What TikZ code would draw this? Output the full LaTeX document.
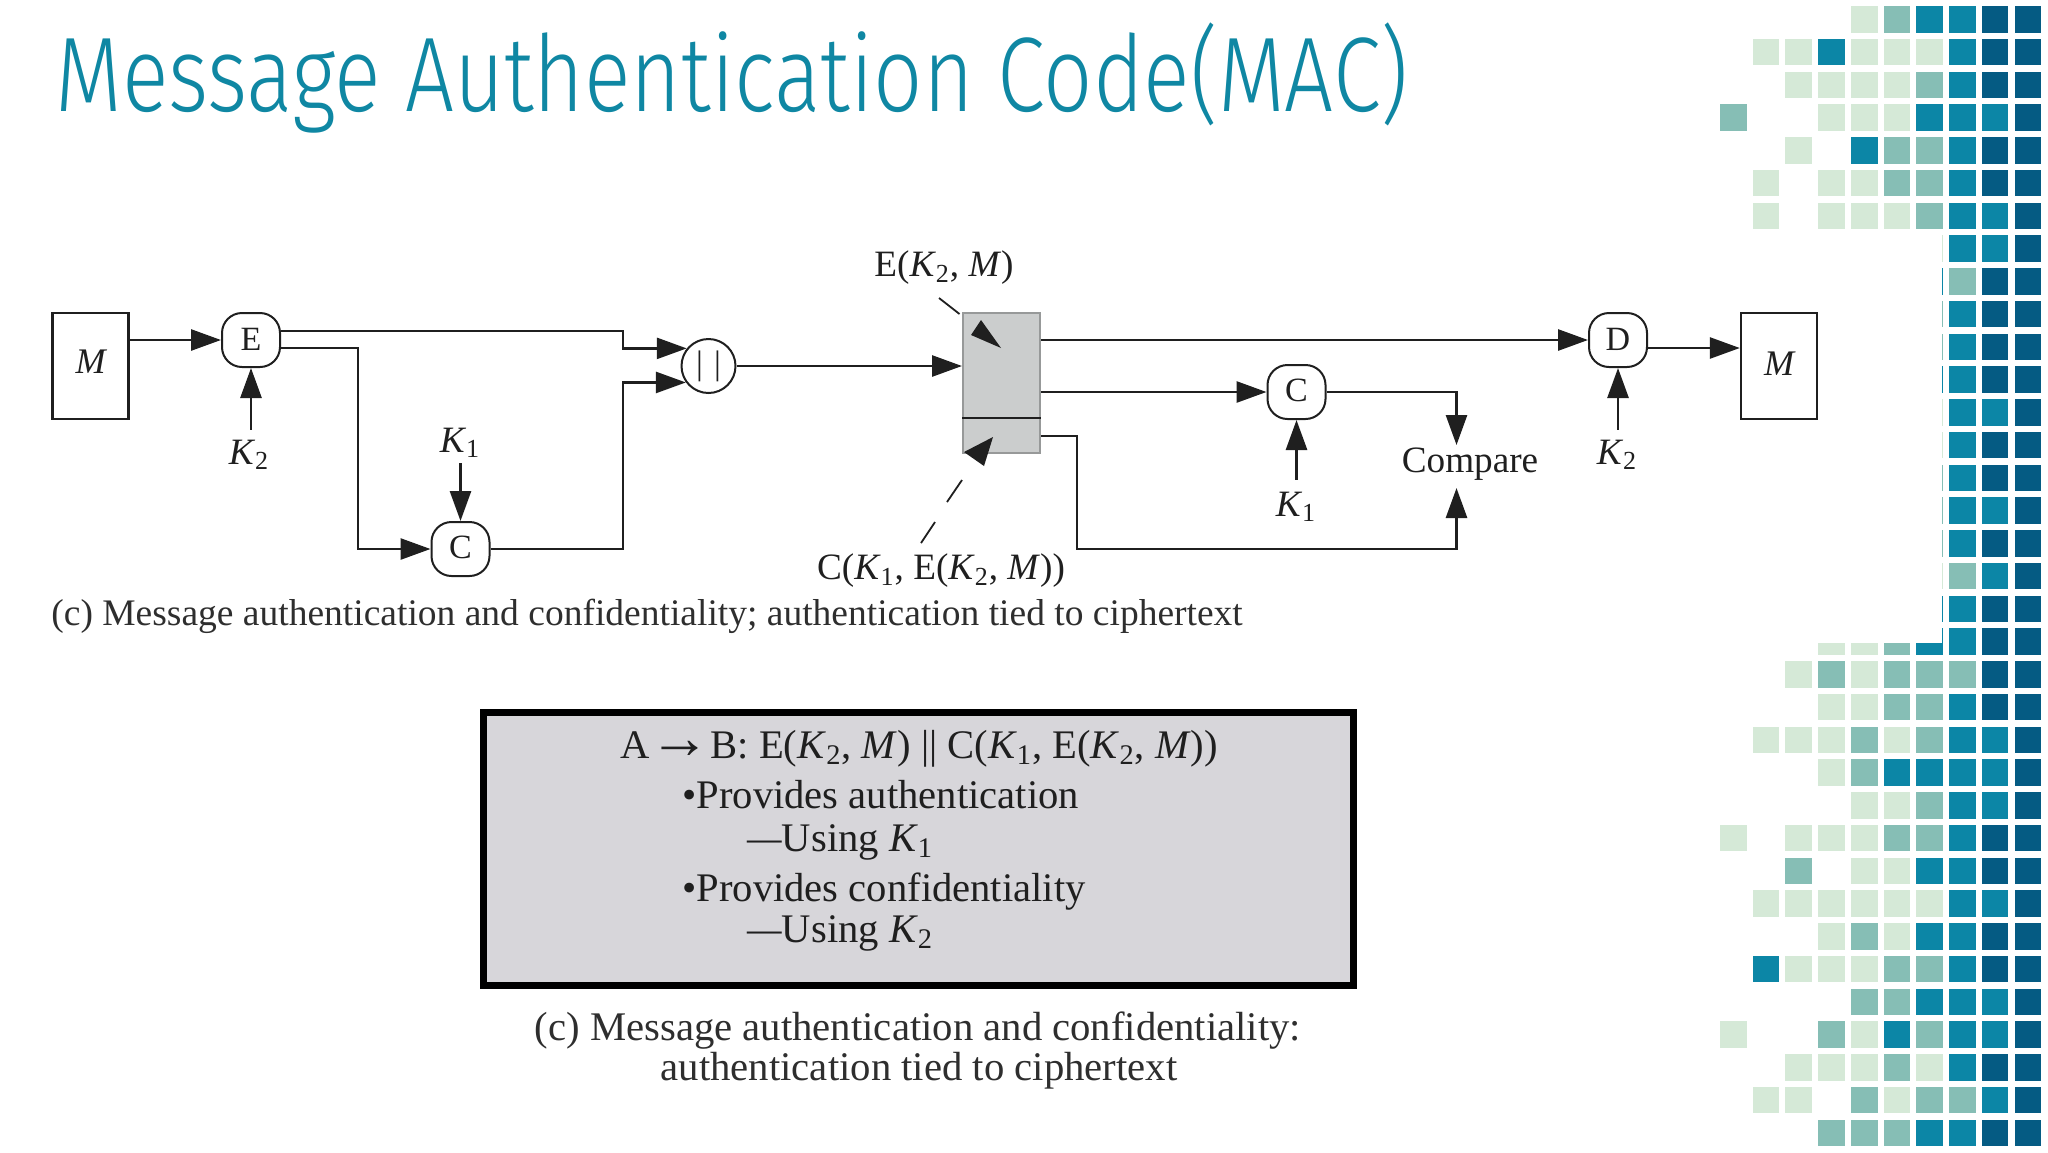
\documentclass[tikz,border=0pt]{standalone}
\usepackage{fontspec}
\setmainfont{Liberation Serif}
\newfontfamily\titlefont{Fira Sans Light}
\usetikzlibrary{arrows.meta,shapes.geometric}
\definecolor{tealtitle}{HTML}{0F87A3}
\definecolor{ink}{HTML}{1F1F1F}
\definecolor{capink}{HTML}{2E2E2E}
\definecolor{gridL}{HTML}{D5E9D7}
\definecolor{gridM}{HTML}{86BEB5}
\definecolor{gridT}{HTML}{0C86A6}
\definecolor{gridD}{HTML}{055B83}
\definecolor{boxgrey}{HTML}{D7D6DA}
\definecolor{packetgrey}{HTML}{CBCDCD}
\tikzset{
  cellL/.style={fill=gridL},cellM/.style={fill=gridM},cellT/.style={fill=gridT},cellD/.style={fill=gridD},cellN/.style={},
  wire/.style={draw=ink,line width=1.35pt},
  flow/.style={wire,-{Triangle[length=15pt,width=10.5pt]}},
  leader/.style={draw=ink,line width=.9pt},
  msgbox/.style={draw=ink,line width=1.2pt,minimum width=38pt,minimum height=53pt,inner sep=0pt,font=\fontsize{18}{20}\selectfont\itshape,text=ink},
  opbox/.style={draw=ink,line width=1pt,rounded corners=10pt,minimum width=29pt,minimum height=27pt,inner sep=0pt,font=\fontsize{17}{20}\selectfont,text=ink},
  opcircle/.style={draw=ink,line width=1pt,circle,minimum size=27pt,inner sep=0pt,font=\fontsize{17}{20}\selectfont,text=ink},
  lab/.style={inner sep=0pt,font=\fontsize{18.6}{20}\selectfont,text=ink},
  captext/.style={inner sep=0pt,font=\fontsize{18.75}{20}\selectfont,text=capink},
  sumline/.style={inner sep=0pt,font=\fontsize{20.3}{24}\selectfont,text=ink,anchor=west},
  capb/.style={inner sep=0pt,font=\fontsize{20.35}{24}\selectfont,text=capink}
}
\newcommand{\cellrow}[2]{\foreach \kk [count=\cc from 0] in {#2}{\path[cell\kk] ({1720+32.72*\cc},{6+32.75*#1}) rectangle ++(26.7,26.7);}}
\newcommand{\KK}[1]{\textit{K}\textsubscript{#1}}
\newcommand{\up}[2]{\raisebox{#1}{#2}}
\begin{document}
\begin{tikzpicture}[x=0.5pt,y=-0.5pt]
\useasboundingbox (0,0) rectangle (2048,1152);
% decorative grid
\cellrow{0}{N,N,N,N,L,M,T,T,D,D}
\cellrow{1}{N,L,L,T,L,L,L,T,D,D}
\cellrow{2}{N,N,L,L,L,L,M,T,D,D}
\cellrow{3}{M,N,N,L,L,L,T,T,T,D}
\cellrow{4}{N,N,L,N,T,M,M,T,D,D}
\cellrow{5}{N,L,N,L,L,M,M,T,D,D}
\cellrow{6}{N,L,N,L,L,L,M,T,T,D}
\cellrow{7}{N,N,N,N,N,N,L,T,T,D}
\cellrow{8}{N,N,N,N,N,N,T,M,D,D}
\cellrow{9}{N,N,N,N,N,N,M,T,D,D}
\cellrow{10}{N,N,N,N,N,N,M,T,D,D}
\cellrow{11}{N,N,N,N,N,N,T,T,D,D}
\cellrow{12}{N,N,N,N,N,N,L,T,T,D}
\cellrow{13}{N,N,N,N,N,N,L,T,D,D}
\cellrow{14}{N,N,N,N,N,N,M,T,D,D}
\cellrow{15}{N,N,N,N,N,N,M,T,T,D}
\cellrow{16}{N,N,N,N,N,N,M,T,D,D}
\cellrow{17}{N,N,N,N,N,N,L,M,T,D}
\cellrow{18}{N,N,N,N,N,N,T,T,D,D}
\cellrow{19}{N,N,N,L,L,M,T,T,D,D}
\cellrow{20}{N,N,L,M,L,M,M,M,D,D}
\cellrow{21}{N,N,N,L,L,M,M,T,D,D}
\cellrow{22}{N,L,L,L,M,L,M,T,T,D}
\cellrow{23}{N,N,N,L,M,T,T,T,T,D}
\cellrow{24}{N,N,N,N,L,L,M,T,T,D}
\cellrow{25}{L,N,L,L,L,M,M,T,D,D}
\cellrow{26}{N,N,M,N,L,L,T,T,D,D}
\cellrow{27}{N,L,L,L,L,L,L,T,T,D}
\cellrow{28}{N,N,N,L,M,L,T,T,D,D}
\cellrow{29}{N,T,L,L,L,M,M,T,D,D}
\cellrow{30}{N,N,N,N,M,M,T,T,T,D}
\cellrow{31}{L,N,N,M,L,T,M,T,T,D}
\cellrow{32}{N,N,L,L,L,M,L,T,D,D}
\cellrow{33}{N,L,L,N,M,L,M,M,T,D}
\cellrow{34}{N,N,N,M,M,M,T,T,D,D}
\fill[white] (1700,234) rectangle (1942,643);
% title
\node[anchor=base west,inner sep=0pt,text=tealtitle,font=\fontsize{53}{60}\titlefont,xscale=.817,transform shape] (title) at (55,111) {Message Authentication Code(MAC)};
% upper diagram
\node[msgbox] (Ma) at (90.5,366) {\up{4pt}{M}};
\node[opbox] (E) at (251,340) {\up{.6pt}{E}};
\node[opbox] (Ca) at (460.5,549) {\up{1.3pt}{C}};
\node[opcircle] (J) at (708.5,366) {|\,\,|};
\node[rectangle,draw=packetgrey!70!ink,fill=packetgrey,line width=1pt,minimum width=38.5pt,minimum height=70pt,inner sep=0pt] (P) at (1001.5,383) {};
\node[opbox] (D) at (1618,340) {\up{.6pt}{D}};
\node[opbox] (Cb) at (1296.5,392) {\up{1.3pt}{C}};
\node[msgbox] (Mb) at (1779,366) {\up{2pt}{M}};
\node[lab] (K2a) at (249,455) {\KK{2}};
\node[lab] (K1a) at (460,443) {\KK{1}};
\node[lab] (K1b) at (1296,507) {\KK{1}};
\node[lab] (K2b) at (1617,455) {\KK{2}};
\node[lab] (Cmp) at (1470,464) {Compare};
\node[lab] (LE) at (944,268) {E(\KK{2}, \textit{M})};
\node[lab] (LC) at (941,571) {C(\KK{1}, E(\KK{2}, \textit{M}))};
\node[captext,anchor=west] (cap1) at (51,616) {(c) Message authentication and confidentiality; authentication tied to ciphertext};
\coordinate (cmpTop) at (1456.5,445);
\coordinate (cmpBot) at (1456.5,488);
\coordinate (tipE) at (981,320);
\coordinate (tipC) at (964,452);
% connectors
\draw[flow] (Ma.east|-E.west) -- (E.west);
\draw[flow] (E.east|-0,331) -- (623,331) |- (J.141);
\draw[flow] (E.east|-0,348) -- (358,348) |- (Ca.west);
\draw[flow] (Ca.east) -- (623,549) |- (J.216);
\draw[flow] (J.east) -- (P.west|-J.east);
\draw[flow,shorten <=5pt] (K2a.north-|E.south) -- (E.south);
\draw[flow,shorten <=2.5pt] (K1a.south-|Ca.north) -- (Ca.north);
\draw[wire] (P.west|-0,418) -- (P.east|-0,418);
\draw[flow] (P.east|-D.west) -- (D.west);
\draw[flow] (P.east|-Cb.west) -- (Cb.west);
\draw[flow] (D.east|-0,348) -- (Mb.west|-0,348);
\draw[flow,shorten <=5pt] (K2b.north-|D.south) -- (D.south);
\draw[flow,shorten <=6pt] (K1b.north-|Cb.south) -- (Cb.south);
\draw[flow] (Cb.east) -| (cmpTop);
\draw[flow] (P.east|-0,436) -- (1077,436) |- (1456.5,549) -- (cmpBot);
% leaders with their arrowheads
\draw[leader] (939,298) -- (959.5,314);
\fill[ink] (tipE) -- (971,335) -- (1001,348) -- cycle;
\fill[ink] (tipC) -- (993,437) -- (984,466) -- cycle;
\draw[leader] (962,480) -- (947,502);
\draw[leader] (935,522) -- (921,543);
% summary box
\node[rectangle,draw=black,fill=boxgrey,line width=3.5pt,minimum width=435pt,minimum height=136.5pt,inner sep=0pt] (S) at (918.5,849) {};
\node[sumline] (s1) at (620,749) {A\scalebox{1.5}{→}B: E(\KK{2}, \textit{M}) || C(\KK{1}, E(\KK{2}, \textit{M}))};
\node[sumline] (s2) at (682,795) {•Provides authentication};
\node[sumline] (s3) at (747,842) {\scalebox{.85}[1]{—}Using \KK{1}};
\node[sumline] (s4) at (682,892) {•Provides confidentiality};
\node[sumline] (s5) at (747,933) {\scalebox{.85}[1]{—}Using \KK{2}};
\node[capb] (c1) at (918,1031) {(c) Message authentication and confidentiality:};
\node[capb] (c2) at (919,1071) {authentication tied to ciphertext};
\end{tikzpicture}
\end{document}
